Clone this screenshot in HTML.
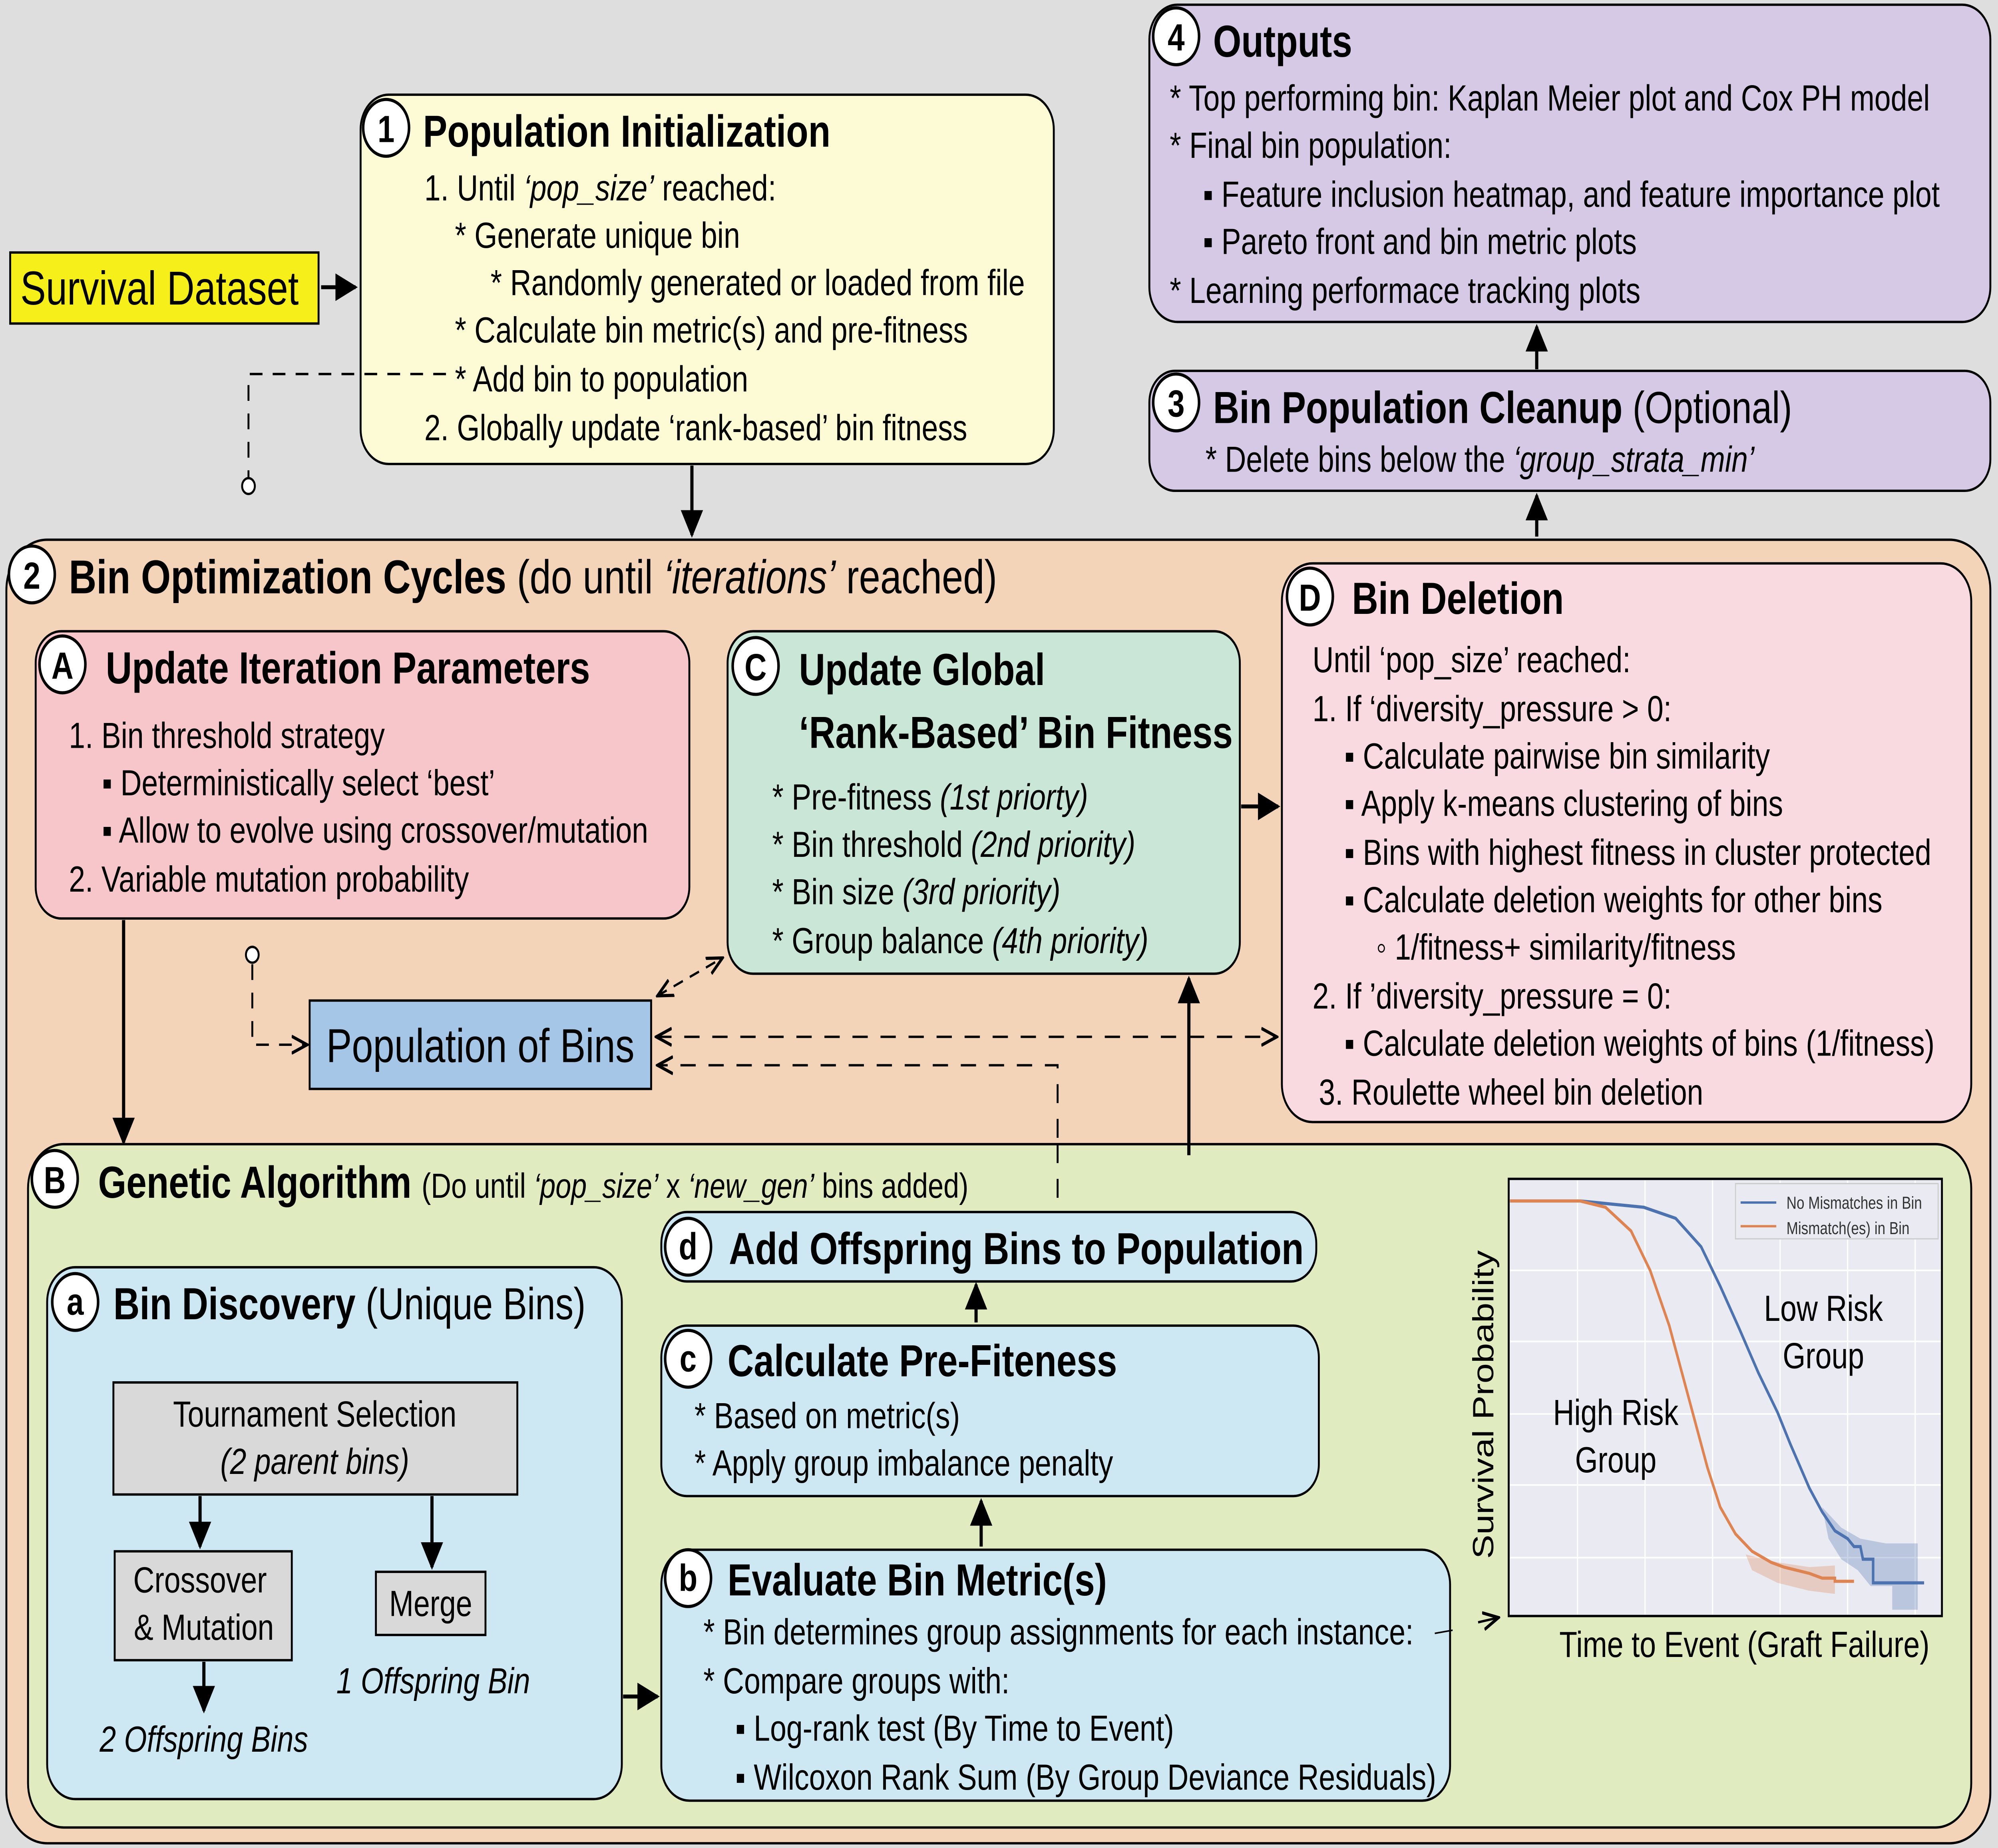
<!DOCTYPE html>
<html><head><meta charset="utf-8"><style>
html,body{margin:0;padding:0;background:#dedede;width:100vw;height:100vh;overflow:hidden;}
svg{display:block;position:absolute;left:0;top:0;width:100vw;height:100vh;}
text{font-family:"Liberation Sans",sans-serif;fill:#000;}
.t{font-size:28.5px;font-weight:bold;}
.l{font-size:23px;}
.i{font-style:italic;}
</style></head><body>
<svg viewBox="0 0 1568 1171" preserveAspectRatio="none" xmlns="http://www.w3.org/2000/svg">
<defs>
<marker id="ar" viewBox="0 0 10 10" refX="9" refY="5" markerWidth="7" markerHeight="7" orient="auto-start-reverse"><path d="M0,0 L10,5 L0,10 z" fill="#000"/></marker>
<marker id="ao" viewBox="0 0 10 10" refX="9" refY="5" markerWidth="9" markerHeight="9" orient="auto-start-reverse"><path d="M0,1 L9,5 L0,9" fill="none" stroke="#000" stroke-width="1.5"/></marker>
</defs>
<rect width="1568" height="1171" fill="#dedede"/>

<rect x="8" y="160" width="242" height="45" fill="#f7ef1a" stroke="#000" stroke-width="1.5"/>
<text x="16" y="193" style="font-size:30px">Survival Dataset</text>
<line x1="252" y1="182" x2="279" y2="182" stroke="#000" stroke-width="2.5" marker-end="url(#ar)"/>

<rect x="283" y="60" width="544" height="234" rx="22" fill="#fcfbd6" stroke="#000" stroke-width="1.5"/>
<circle cx="303" cy="81" r="18" fill="#fff" stroke="#000" stroke-width="2"/>
<text x="303" y="90" text-anchor="middle" class="t" style="font-size:24px">1</text>
<text x="332" y="93" class="t">Population Initialization</text>
<text x="333" y="127" class="l">1. Until <tspan class="i">‘pop_size’</tspan> reached:</text>
<text x="357" y="157" class="l">* Generate unique bin</text>
<text x="385" y="187" class="l">* Randomly generated or loaded from file</text>
<text x="357" y="217" class="l">* Calculate bin metric(s) and pre-fitness</text>
<text x="357" y="248" class="l">* Add bin to population</text>
<text x="333" y="279" class="l">2. Globally update ‘rank-based’ bin fitness</text>
<path d="M350,237 H195 V303" fill="none" stroke="#000" stroke-width="1.5" stroke-dasharray="10,8"/>
<circle cx="195" cy="308" r="5" fill="#fff" stroke="#000" stroke-width="1.5"/>
<line x1="543" y1="295" x2="543" y2="339" stroke="#000" stroke-width="2.5" marker-end="url(#ar)"/>

<rect x="902" y="3" width="660" height="201" rx="22" fill="#d6c9e6" stroke="#000" stroke-width="1.5"/>
<circle cx="923" cy="23" r="18" fill="#fff" stroke="#000" stroke-width="2"/>
<text x="923" y="32" text-anchor="middle" class="t" style="font-size:24px">4</text>
<text x="952" y="36" class="t">Outputs</text>
<text x="918" y="70" class="l">*  Top performing bin: Kaplan Meier plot and Cox PH model</text>
<text x="918" y="100" class="l">*  Final bin population:</text>
<text x="944" y="131" class="l">▪  Feature inclusion heatmap, and feature importance plot</text>
<text x="944" y="161" class="l">▪  Pareto front and bin metric plots</text>
<text x="918" y="192" class="l">*  Learning performace tracking plots</text>
<line x1="1206" y1="234" x2="1206" y2="207" stroke="#000" stroke-width="2.5" marker-end="url(#ar)"/>

<rect x="902" y="235" width="660" height="76" rx="20" fill="#d6c9e6" stroke="#000" stroke-width="1.5"/>
<circle cx="923" cy="255" r="18" fill="#fff" stroke="#000" stroke-width="2"/>
<text x="923" y="264" text-anchor="middle" class="t" style="font-size:24px">3</text>
<text x="952" y="268" class="t">Bin Population Cleanup <tspan style="font-weight:normal">(Optional)</tspan></text>
<text x="946" y="299" class="l">*  Delete bins below the <tspan class="i">‘group_strata_min’</tspan></text>
<line x1="1206" y1="340" x2="1206" y2="314" stroke="#000" stroke-width="2.5" marker-end="url(#ar)"/>

<rect x="5" y="342" width="1557" height="826" rx="32" fill="#f3d4b8" stroke="#000" stroke-width="1.5"/>
<circle cx="25" cy="364" r="18" fill="#fff" stroke="#000" stroke-width="2"/>
<text x="25" y="373" text-anchor="middle" class="t" style="font-size:24px">2</text>
<text x="54" y="376" class="t" style="font-size:30px">Bin Optimization Cycles <tspan style="font-weight:normal">(do until <tspan class="i">‘iterations’</tspan> reached)</tspan></text>

<rect x="28" y="400" width="513" height="182" rx="20" fill="#f7c6ca" stroke="#000" stroke-width="1.5"/>
<circle cx="49" cy="421" r="18" fill="#fff" stroke="#000" stroke-width="2"/>
<text x="49" y="430" text-anchor="middle" class="t" style="font-size:24px">A</text>
<text x="83" y="433" class="t">Update Iteration Parameters</text>
<text x="54" y="474" class="l">1. Bin threshold strategy</text>
<text x="80" y="504" class="l">▪  Deterministically select ‘best’</text>
<text x="80" y="534" class="l">▪  Allow to evolve using crossover/mutation</text>
<text x="54" y="565" class="l">2. Variable mutation probability</text>

<rect x="571" y="400" width="402" height="217" rx="20" fill="#cae6d6" stroke="#000" stroke-width="1.5"/>
<circle cx="593" cy="422" r="18" fill="#fff" stroke="#000" stroke-width="2"/>
<text x="593" y="431" text-anchor="middle" class="t" style="font-size:24px">C</text>
<text x="627" y="434" class="t">Update Global</text>
<text x="627" y="474" class="t">‘Rank-Based’ Bin Fitness</text>
<text x="606" y="513" class="l">*  Pre-fitness <tspan class="i">(1st priorty)</tspan></text>
<text x="606" y="543" class="l">*  Bin threshold <tspan class="i">(2nd priority)</tspan></text>
<text x="606" y="573" class="l">*  Bin size <tspan class="i">(3rd priority)</tspan></text>
<text x="606" y="604" class="l">*  Group balance <tspan class="i">(4th priority)</tspan></text>
<line x1="974" y1="511" x2="1003" y2="511" stroke="#000" stroke-width="2.5" marker-end="url(#ar)"/>

<rect x="1006" y="357" width="541" height="354" rx="24" fill="#f9dae0" stroke="#000" stroke-width="1.5"/>
<circle cx="1028" cy="378" r="18" fill="#fff" stroke="#000" stroke-width="2"/>
<text x="1028" y="387" text-anchor="middle" class="t" style="font-size:24px">D</text>
<text x="1061" y="389" class="t">Bin Deletion</text>
<text x="1030" y="426" class="l">Until ‘pop_size’ reached:</text>
<text x="1030" y="457" class="l">1. If ‘diversity_pressure &gt; 0:</text>
<text x="1055" y="487" class="l">▪  Calculate pairwise bin similarity</text>
<text x="1055" y="517" class="l">▪  Apply k-means clustering of bins</text>
<text x="1055" y="548" class="l">▪  Bins with highest fitness in cluster protected</text>
<text x="1055" y="578" class="l">▪  Calculate deletion weights for other bins</text>
<text x="1080" y="608" class="l">◦  1/fitness+ similarity/fitness</text>
<text x="1030" y="639" class="l">2. If ’diversity_pressure = 0:</text>
<text x="1055" y="669" class="l">▪  Calculate deletion weights of bins (1/fitness)</text>
<text x="1035" y="700" class="l">3. Roulette wheel bin deletion</text>

<rect x="243" y="634" width="268" height="56" fill="#a6c6e7" stroke="#000" stroke-width="1.5"/>
<text x="377" y="673" text-anchor="middle" style="font-size:30px">Population of Bins</text>
<line x1="516" y1="631" x2="567" y2="607" stroke="#000" stroke-width="1.5" stroke-dasharray="8,6" marker-start="url(#ao)" marker-end="url(#ao)"/>
<line x1="515" y1="657" x2="1002" y2="657" stroke="#000" stroke-width="1.5" stroke-dasharray="12,10" marker-start="url(#ao)" marker-end="url(#ao)"/>
<path d="M830,765 V675 H516" fill="none" stroke="#000" stroke-width="1.5" stroke-dasharray="12,10" marker-end="url(#ao)"/>
<circle cx="198" cy="605" r="5" fill="#fff" stroke="#000" stroke-width="1.5"/>
<path d="M198,611 V662 H241" fill="none" stroke="#000" stroke-width="1.5" stroke-dasharray="10,8" marker-end="url(#ao)"/>
<line x1="97" y1="583" x2="97" y2="724" stroke="#000" stroke-width="2.5" marker-end="url(#ar)"/>

<rect x="22" y="725" width="1525" height="433" rx="28" fill="#e1ebc0" stroke="#000" stroke-width="1.5"/>
<line x1="830" y1="725" x2="830" y2="765" stroke="#000" stroke-width="1.5" stroke-dasharray="12,10"/>
<line x1="933" y1="732" x2="933" y2="620" stroke="#000" stroke-width="2.5" marker-end="url(#ar)"/>
<circle cx="43" cy="747" r="18" fill="#fff" stroke="#000" stroke-width="2"/>
<text x="43" y="756" text-anchor="middle" class="t" style="font-size:24px">B</text>
<text x="77" y="759" class="t">Genetic Algorithm <tspan style="font-weight:normal;font-size:22px"> (Do until <tspan class="i">‘pop_size’</tspan> x <tspan class="i">‘new_gen’</tspan> bins added)</tspan></text>

<rect x="37" y="803" width="451" height="337" rx="22" fill="#cde8f2" stroke="#000" stroke-width="1.5"/>
<circle cx="59" cy="825" r="18" fill="#fff" stroke="#000" stroke-width="2"/>
<text x="59" y="833" text-anchor="middle" class="t" style="font-size:24px">a</text>
<text x="89" y="836" class="t">Bin Discovery <tspan style="font-weight:normal">(Unique Bins)</tspan></text>
<rect x="89" y="876" width="317" height="71" fill="#d9d9d9" stroke="#000" stroke-width="1.5"/>
<text x="247" y="904" text-anchor="middle" class="l">Tournament Selection</text>
<text x="247" y="934" text-anchor="middle" class="l i">(2 parent bins)</text>
<line x1="157" y1="948" x2="157" y2="980" stroke="#000" stroke-width="2.5" marker-end="url(#ar)"/>
<line x1="339" y1="948" x2="339" y2="993" stroke="#000" stroke-width="2.5" marker-end="url(#ar)"/>
<rect x="90" y="983" width="139" height="69" fill="#d9d9d9" stroke="#000" stroke-width="1.5"/>
<text x="157" y="1009" text-anchor="middle" class="l">Crossover</text>
<text x="160" y="1039" text-anchor="middle" class="l">&amp; Mutation</text>
<rect x="295" y="996" width="86" height="40" fill="#d9d9d9" stroke="#000" stroke-width="1.5"/>
<text x="338" y="1024" text-anchor="middle" class="l">Merge</text>
<text x="340" y="1073" text-anchor="middle" class="l i">1 Offspring Bin</text>
<line x1="160" y1="1053" x2="160" y2="1084" stroke="#000" stroke-width="2.5" marker-end="url(#ar)"/>
<text x="160" y="1110" text-anchor="middle" class="l i">2 Offspring Bins</text>
<line x1="489" y1="1075" x2="516" y2="1075" stroke="#000" stroke-width="2.5" marker-end="url(#ar)"/>

<rect x="519" y="768" width="514" height="44" rx="20" fill="#cde8f2" stroke="#000" stroke-width="1.5"/>
<circle cx="540" cy="790" r="18" fill="#fff" stroke="#000" stroke-width="2"/>
<text x="540" y="798" text-anchor="middle" class="t" style="font-size:24px">d</text>
<text x="572" y="801" class="t">Add Offspring Bins to Population</text>
<line x1="766" y1="838" x2="766" y2="814" stroke="#000" stroke-width="2.5" marker-end="url(#ar)"/>

<rect x="519" y="840" width="516" height="108" rx="20" fill="#cde8f2" stroke="#000" stroke-width="1.5"/>
<circle cx="540" cy="861" r="18" fill="#fff" stroke="#000" stroke-width="2"/>
<text x="540" y="869" text-anchor="middle" class="t" style="font-size:24px">c</text>
<text x="571" y="872" class="t">Calculate Pre-Fiteness</text>
<text x="545" y="905" class="l">*  Based on metric(s)</text>
<text x="545" y="935" class="l">*  Apply group imbalance penalty</text>
<line x1="770" y1="980" x2="770" y2="951" stroke="#000" stroke-width="2.5" marker-end="url(#ar)"/>

<rect x="519" y="982" width="619" height="159" rx="22" fill="#cde8f2" stroke="#000" stroke-width="1.5"/>
<circle cx="540" cy="1000" r="18" fill="#fff" stroke="#000" stroke-width="2"/>
<text x="540" y="1008" text-anchor="middle" class="t" style="font-size:24px">b</text>
<text x="571" y="1011" class="t">Evaluate Bin Metric(s)</text>
<text x="552" y="1042" class="l">*  Bin determines group assignments for each instance:</text>
<text x="552" y="1073" class="l">*  Compare groups with:</text>
<text x="577" y="1103" class="l">▪  Log-rank test (By Time to Event)</text>
<text x="577" y="1134" class="l">▪  Wilcoxon Rank Sum (By Group Deviance Residuals)</text>
<line x1="1126" y1="1035" x2="1140" y2="1033" stroke="#000" stroke-width="1"/>
<line x1="1160" y1="1028" x2="1176" y2="1025" stroke="#000" stroke-width="1.5" marker-end="url(#ao)"/>

<rect x="1184" y="747" width="340" height="277" fill="#eaeaf2" stroke="#000" stroke-width="1.5"/>
<g stroke="#fff" stroke-width="1">
<line x1="1238" y1="748" x2="1238" y2="1023"/><line x1="1291" y1="748" x2="1291" y2="1023"/><line x1="1344" y1="748" x2="1344" y2="1023"/><line x1="1397" y1="748" x2="1397" y2="1023"/><line x1="1450" y1="748" x2="1450" y2="1023"/><line x1="1503" y1="748" x2="1503" y2="1023"/>
<line x1="1185" y1="805" x2="1523" y2="805"/><line x1="1185" y1="850" x2="1523" y2="850"/><line x1="1185" y1="896" x2="1523" y2="896"/><line x1="1185" y1="941" x2="1523" y2="941"/><line x1="1185" y1="987" x2="1523" y2="987"/>
</g>
<path d="M1430,955 L1445,968 L1460,975 L1480,978 L1500,978 L1505,978 L1505,1020 L1485,1020 L1485,1005 L1468,1005 L1458,995 L1445,988 L1435,975 Z" fill="#4c72b0" fill-opacity="0.3"/>
<path d="M1370,985 L1395,990 L1420,993 L1440,992 L1440,1010 L1420,1008 L1395,1003 L1375,995 Z" fill="#dd8452" fill-opacity="0.3"/>
<path d="M1185,761 L1240,761 L1290,765 L1315,772 L1335,790 L1350,815 L1365,842 L1380,870 L1395,895 L1405,915 L1420,943 L1430,958 L1440,970 L1450,975 L1455,980 L1460,980 L1462,988 L1470,988 L1470,1003 L1510,1003" fill="none" stroke="#4c72b0" stroke-width="2"/>
<path d="M1185,761 L1240,761 L1260,765 L1280,780 L1295,805 L1310,840 L1320,870 L1330,900 L1340,930 L1350,955 L1362,972 L1375,983 L1390,990 L1400,993 L1420,997 L1430,1000 L1440,1000 L1440,1002 L1455,1002" fill="none" stroke="#dd8452" stroke-width="2"/>
<rect x="1362" y="750" width="159" height="35" fill="#eaeaf2" stroke="#ccc" stroke-width="0.8"/>
<line x1="1366" y1="762" x2="1394" y2="762" stroke="#4c72b0" stroke-width="1.5"/>
<line x1="1366" y1="777" x2="1394" y2="777" stroke="#dd8452" stroke-width="1.5"/>
<text x="1402" y="766" style="font-size:11px;fill:#333">No Mismatches in Bin</text>
<text x="1402" y="782" style="font-size:11px;fill:#333">Mismatch(es) in Bin</text>
<text x="1431" y="837" text-anchor="middle" class="l">Low Risk</text>
<text x="1431" y="867" text-anchor="middle" class="l">Group</text>
<text x="1268" y="903" text-anchor="middle" class="l">High Risk</text>
<text x="1268" y="933" text-anchor="middle" class="l">Group</text>
<text x="1172" y="890" text-anchor="middle" class="l" transform="rotate(-90 1172 890)">Survival Probability</text>
<text x="1369" y="1050" text-anchor="middle" class="l">Time to Event (Graft Failure)</text>
</svg>
</body></html>
